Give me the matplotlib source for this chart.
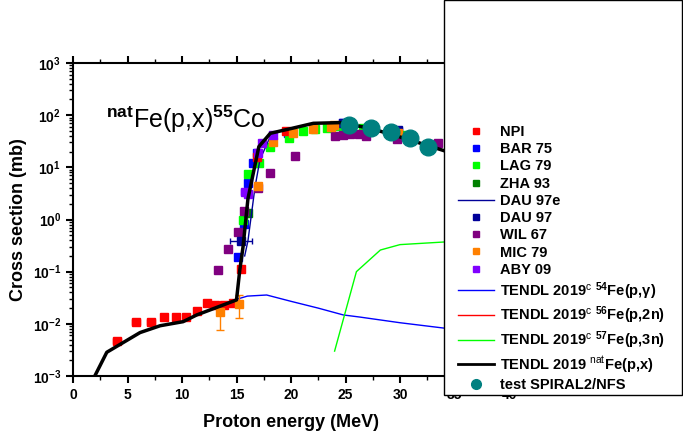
import numpy as np
import matplotlib
matplotlib.use('Agg')
import matplotlib.pyplot as plt
from matplotlib.patches import Rectangle
from matplotlib.lines import Line2D
from matplotlib.ticker import FuncFormatter, LogLocator, MultipleLocator, NullFormatter

plt.rcParams['font.family'] = ['Liberation Sans', 'DejaVu Sans']
plt.rcParams['mathtext.fontset'] = 'custom'
plt.rcParams['mathtext.rm'] = 'Liberation Sans'
plt.rcParams['mathtext.bf'] = 'Liberation Sans:bold'
plt.rcParams['mathtext.it'] = 'Liberation Sans:italic'

npi_x = [4.06, 5.78, 7.16, 8.38, 9.45, 10.4, 11.4, 12.26, 13.06, 13.85, 14.65, 15.41, 16.85, 19.5]
npi_y = [0.0046, 0.011, 0.011, 0.0133, 0.0133, 0.0134, 0.0178, 0.0256, 0.0227, 0.023, 0.0256, 0.114, 16, 50]
npi_xerr = [0.35, 0.35, 0.35, 0.2, 0.2, 0.2, 0.2, 0.2, 0.2, 0.2, 0.2, 0.1, 0.1, 0.1]

bar_x = [15.17, 15.69, 16.08, 16.5, 16.85, 19.75, 24.8, 29.85]
bar_y = [0.19, 0.81, 4.9, 11.9, 18.6, 45, 70, 50]

lag_x = [15.63, 16.08, 17.06, 18.07, 19.8, 21.1, 22.2, 23.3, 24.3, 24.95, 26.6, 30.15]
lag_y = [1.0, 7.5, 11.9, 25, 36, 50, 54.5, 57, 61.5, 45, 56, 42]

zha_x = [16.08]
zha_y = [1.32]

dau97e_x = [15.75, 16.05, 16.7, 17.15, 18.1, 19.0]
dau97e_y = [0.2, 0.39, 4.2, 14, 39, 50]

dau_x = [15.41, 24.8, 29.85]
dau_y = [0.39, 72, 51]
dau_xerr = [1.0, 0.2, 0.2]

wil_x = [13.33, 14.19, 15.17, 15.69, 16.94, 18.1, 20.4, 24.04, 24.8, 25.4, 26.2, 26.9, 29.7, 33.5]
wil_y = [0.107, 0.27, 0.57, 1.45, 4.0, 7.7, 16.7, 39, 41.7, 43, 43.5, 40.6, 34.6, 29.8]

mic_x = [13.49, 15.23, 16.94, 18.38, 20.2, 22.05, 23.7, 23.9, 29.85]
mic_y = [0.0166, 0.024, 4.46, 31, 46.5, 54.5, 60, 65, 45]
mic_lo = [0.0075, 0.0131, 4.0, 30, 45, 53, 58, 63, 43]
mic_hi = [0.0256, 0.036, 5.0, 32, 48, 56, 62, 67, 47]

aby_x = [15.78, 16.1, 17.0, 17.3, 18.38]
aby_y = [3.4, 3.1, 18.6, 29, 41.7]
aby_xerr = [0.35, 0.2, 0.2, 0.2, 0.2]

spiral_x = [25.3, 27.3, 29.2, 30.9, 32.6]
spiral_y = [65, 57.5, 46.9, 37, 24.9]

# TENDL 2019 curves
t54_x = [15.0, 16.0, 17.77, 20.0, 22.5, 24.8, 26.3, 30.0, 34.0, 36.0]
t54_y = [0.0295, 0.034, 0.0357, 0.027, 0.020, 0.0148, 0.0135, 0.0105, 0.0083, 0.0078]

t56_x = [15.0, 15.3, 15.6, 16.05, 17.05, 18.1, 20.1, 22.05, 24.5, 27.25, 29.4, 32.4, 35.0]
t56_y = [0.0287, 0.107, 0.30, 2.5, 24.9, 44.9, 56, 69.8, 72, 56, 41.7, 26.8, 18]

t57_x = [24.0, 26.0, 28.2, 30.0, 34.0, 36.0]
t57_y = [0.003, 0.1, 0.26, 0.33, 0.37, 0.38]

nat_x = [2.0, 3.1, 6.15, 8.0, 10.1, 11.35, 13.2, 15.0, 15.3, 15.6, 16.05, 17.05, 18.1,
         20.1, 22.05, 24.5, 27.25, 29.4, 32.4, 35.0]
nat_y = [0.001, 0.00285, 0.0068, 0.0092, 0.011, 0.0148, 0.0207, 0.0287, 0.107, 0.30, 2.5,
         24.9, 44.9, 56, 69.8, 72, 56, 41.7, 26.8, 18]

fig = plt.figure(figsize=(6.83, 4.34), dpi=100)
ax = fig.add_axes([73 / 683, 58 / 434, 436 / 683, 313 / 434])

ms = 6
c_npi, c_bar, c_lag, c_zha = '#FF0000', '#0000FF', '#00FF00', '#008000'
c_dau, c_wil, c_mic, c_aby, c_sp = '#000099', '#800080', '#FF8000', '#8000FF', '#008080'

ax.errorbar(npi_x, npi_y, xerr=npi_xerr, fmt='s', color=c_npi, ms=ms,
            elinewidth=1, capsize=2, zorder=3)
ax.plot(bar_x, bar_y, 's', color=c_bar, ms=ms, zorder=3)
ax.plot(lag_x, lag_y, 's', color=c_lag, ms=ms, zorder=3)
ax.plot(zha_x, zha_y, 's', color=c_zha, ms=ms, zorder=3)
ax.plot(dau97e_x, dau97e_y, '-', color=c_dau, lw=1, zorder=3)
ax.errorbar(dau_x, dau_y, xerr=dau_xerr, fmt='s', color=c_dau, ms=ms,
            elinewidth=1, capsize=2, zorder=3)
ax.plot(wil_x, wil_y, 's', color=c_wil, ms=ms, zorder=3)
mic_err = [np.array(mic_y) - np.array(mic_lo), np.array(mic_hi) - np.array(mic_y)]
ax.errorbar(mic_x, mic_y, yerr=mic_err, fmt='s', color=c_mic, ms=ms,
            elinewidth=1, capsize=3, zorder=3)
ax.errorbar(aby_x, aby_y, xerr=aby_xerr, fmt='s', color=c_aby, ms=ms,
            elinewidth=1, capsize=2, zorder=3)

ax.plot(t54_x, t54_y, '-', color='#0000FF', lw=1, zorder=2)
ax.plot(t56_x, t56_y, '-', color='#FF0000', lw=1, zorder=2)
ax.plot(t57_x, t57_y, '-', color='#00FF00', lw=1, zorder=2)
ax.plot(nat_x, nat_y, '-', color='black', lw=2.5, zorder=4)
ax.plot(spiral_x, spiral_y, 'o', color=c_sp, ms=12, zorder=5)

ax.set_yscale('log')
ax.set_xlim(0, 40)
ax.set_ylim(1e-3, 1e3)
ax.xaxis.set_major_locator(MultipleLocator(5))
ax.xaxis.set_minor_locator(MultipleLocator(2.5))
ax.yaxis.set_major_locator(LogLocator(base=10, numticks=10))
ax.yaxis.set_minor_locator(LogLocator(base=10, subs=np.arange(2, 10), numticks=20))
ax.yaxis.set_minor_formatter(NullFormatter())
ax.yaxis.set_major_formatter(FuncFormatter(lambda v, p: r'$\mathbf{10^{%d}}$' % round(np.log10(v))))
ax.tick_params(axis='both', which='major', direction='out', length=5, width=1.5, labelsize=10)
ax.tick_params(axis='both', which='minor', direction='out', length=3, width=1)
ax.tick_params(axis='x', which='both', top=True)
for lab in ax.get_xticklabels():
    lab.set_fontweight('bold')
for s in ax.spines.values():
    s.set_linewidth(1.5)

ax.set_xlabel('Proton energy (MeV)', fontsize=13, fontweight='bold', labelpad=9)
ax.set_ylabel('Cross section (mb)', fontsize=13, fontweight='bold', labelpad=4)

ax.text(0.075, 0.82, r'$^{\mathbf{nat}}$Fe(p,x)$^{\mathbf{55}}$Co', transform=ax.transAxes,
        fontsize=18, ha='left', va='center')

# legend box covering the right part
fig.patches.append(Rectangle((444 / 683, 1 - 395 / 434), 238 / 683, 395 / 434,
                             transform=fig.transFigure, facecolor='white',
                             edgecolor='black', lw=1, zorder=3))


def sq(c):
    return Line2D([], [], ls='none', marker='s', color=c, ms=5)


def ln(c, w=1):
    return Line2D([], [], color=c, lw=w)


handles = [sq(c_npi), sq(c_bar), sq(c_lag), sq(c_zha), ln(c_dau), sq(c_dau), sq(c_wil),
           sq(c_mic), sq(c_aby), ln('#0000FF'), ln('#FF0000'), ln('#00FF00'), ln('black', 2),
           Line2D([], [], ls='none', marker='o', color=c_sp, ms=7)]
labels = ['NPI', 'BAR 75', 'LAG 79', 'ZHA 93', 'DAU 97e', 'DAU 97', 'WIL 67', 'MIC 79', 'ABY 09',
          r'TENDL 2019$^{\mathrm{c}}$ $^{\mathbf{54}}$Fe(p,γ)',
          r'TENDL 2019$^{\mathrm{c}}$ $^{\mathbf{56}}$Fe(p,2n)',
          r'TENDL 2019$^{\mathrm{c}}$ $^{\mathbf{57}}$Fe(p,3n)',
          r'TENDL 2019 $^{\mathrm{nat}}$Fe(p,x)',
          'test SPIRAL2/NFS']
leg = fig.legend(handles, labels, loc='lower left', bbox_to_anchor=(452 / 683, 1 - 398 / 434),
                 frameon=False, prop={'weight': 'bold', 'size': 10.5}, labelspacing=0.22,
                 handlelength=2.5, handletextpad=0.4, borderaxespad=0)
leg.set_zorder(6)

fig.savefig('out.png', dpi=100)
